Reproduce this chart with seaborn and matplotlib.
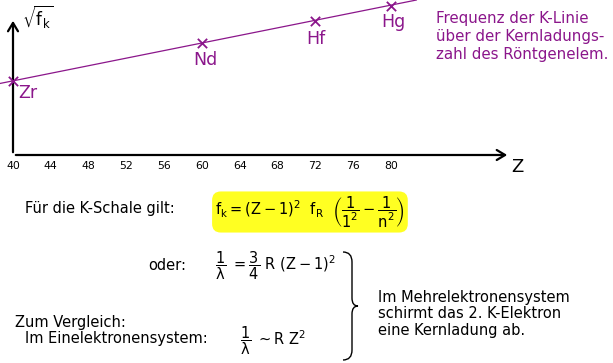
import numpy as np
import pandas as pd
import matplotlib
matplotlib.use("Agg")
import matplotlib.pyplot as plt
import seaborn as sns
from matplotlib.path import Path
from matplotlib.patches import PathPatch

# ---- data (sqrt(f_K) in arbitrary units) ----
elements = ["Zr", "Nd", "Hf", "Hg"]
z_values = [40, 60, 72, 80]
sqrt_f = [74, 112, 134, 149]
line_z = [38.6, 82.7]
line_y = [71.5, 155]
x_ticks = [40, 44, 48, 52, 56, 60, 64, 68, 72, 76, 80]

PURPLE = "#8b168b"
W, H = 613, 363

sns.set_theme(style="white")
plt.rcParams["font.family"] = ["DejaVu Sans"]
plt.rcParams["mathtext.fontset"] = "dejavusans"
plt.rcParams["mathtext.default"] = "regular"
plt.rcParams["text.color"] = "black"
plt.rcParams["xtick.color"] = "black"

fig = plt.figure(figsize=(W / 100, H / 100), dpi=100)

def fx(x):
    return x / W

def fy(y):
    return 1 - y / H

ax_left, ax_right, ax_top, ax_bottom = 13, 510, 18, 155
ax = fig.add_axes([fx(ax_left), fy(ax_bottom), (ax_right - ax_left) / W, (ax_bottom - ax_top) / H])
ax.set_xlim(40, 40 + (ax_right - ax_left) / 9.45)
ax.set_ylim(0, ax_bottom - ax_top)
ax.set_facecolor("none")
for s in ax.spines.values():
    s.set_visible(False)

df_line = pd.DataFrame({"Z": line_z, "f": line_y})
sns.lineplot(data=df_line, x="Z", y="f", ax=ax, color=PURPLE, lw=0.9)
for l in ax.lines:
    l.set_clip_on(False)
df = pd.DataFrame({"Z": z_values, "f": sqrt_f, "el": elements})
sns.scatterplot(data=df, x="Z", y="f", ax=ax, marker="x", color=PURPLE, s=45,
                linewidth=1.3, clip_on=False, zorder=5)

offsets = {"Zr": (1.6, -12), "Nd": (0.4, -17), "Hf": (0.1, -18), "Hg": (0.2, -16)}
for el, z, f in zip(elements, z_values, sqrt_f):
    dx, dy = offsets[el]
    ax.text(z + dx, f + dy, el, color=PURPLE, fontsize=12.5, ha="center", va="center")

# axes arrows
ax.annotate("", xy=(1.0, 0), xytext=(0, 0), xycoords="axes fraction",
            arrowprops=dict(arrowstyle="->,head_length=0.5,head_width=0.3", lw=1.6, color="black"))
ax.annotate("", xy=(0, 1.0), xytext=(0, 0), xycoords="axes fraction",
            arrowprops=dict(arrowstyle="->,head_length=0.5,head_width=0.3", lw=1.6, color="black"))

ax.set_xticks(x_ticks)
ax.set_xticklabels([str(t) for t in x_ticks], fontsize=7.8)
ax.tick_params(axis="x", length=0, pad=4, colors="black")
ax.set_yticks([])
ax.set_xlabel("")
ax.set_ylabel("")

fig.text(fx(517), fy(167), "Z", fontsize=13, ha="center", va="center")
fig.text(fx(38), fy(17), r"$\sqrt{f_{k}}$", fontsize=12, ha="center", va="center")

fig.text(fx(436), fy(37), "Frequenz der K-Linie\nüber der Kernladungs-\nzahl des Röntgenelem.",
         color=PURPLE, fontsize=10.8, ha="left", va="center", linespacing=1.25)

fig.text(fx(25), fy(208), "Für die K-Schale gilt:", fontsize=10.5, ha="left", va="center")
fig.text(fx(215), fy(212),
         r"$f_k = (Z-1)^2\ \ f_R\ \ \left(\dfrac{1}{1^2} - \dfrac{1}{n^2}\right)$",
         fontsize=10.5, ha="left", va="center",
         bbox=dict(boxstyle="round,pad=0.2,rounding_size=0.6", fc="#ffff22", ec="none"))

fig.text(fx(148), fy(265), "oder:", fontsize=10.5, ha="left", va="center")
fig.text(fx(215), fy(266), r"$\dfrac{1}{\lambda}\ = \dfrac{3}{4}\ R\ (Z-1)^2$",
         fontsize=10.5, ha="left", va="center")

fig.text(fx(15), fy(322), "Zum Vergleich:", fontsize=10.5, ha="left", va="center")
fig.text(fx(25), fy(339), "Im Einelektronensystem:", fontsize=10.5, ha="left", va="center")
fig.text(fx(240), fy(341), r"$\dfrac{1}{\lambda}\ \sim R\ Z^2$",
         fontsize=10.5, ha="left", va="center")

fig.text(fx(378), fy(314), "Im Mehrelektronensystem\nschirmt das 2. K-Elektron\neine Kernladung ab.",
         fontsize=10.5, ha="left", va="center", linespacing=1.1)

# big right brace
pts = [(343, 252), (352, 252), (352, 262), (352, 298), (352, 306), (358, 306),
       (352, 306), (352, 314), (352, 350), (352, 360), (343, 360)]
codes = [Path.MOVETO, Path.CURVE3, Path.CURVE3, Path.LINETO, Path.CURVE3, Path.CURVE3,
         Path.CURVE3, Path.CURVE3, Path.LINETO, Path.CURVE3, Path.CURVE3]
verts = [(fx(x), fy(y)) for x, y in pts]
fig.add_artist(PathPatch(Path(verts, codes), fc="none", ec="black", lw=1.0,
                         transform=fig.transFigure))

fig.savefig("out.png", dpi=100)
